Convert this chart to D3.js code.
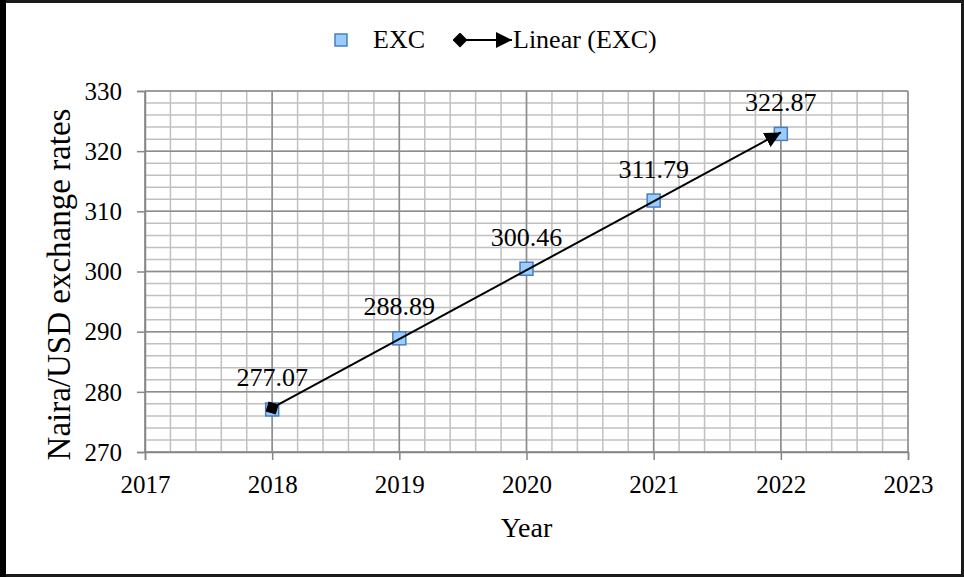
<!DOCTYPE html>
<html>
<head>
<meta charset="utf-8">
<script src="https://cdn.jsdelivr.net/npm/d3@7/dist/d3.min.js"></script>
<style>
  html, body { margin: 0; padding: 0; background: #fff; }
  svg { display: block; }
</style>
</head>
<body>
<svg id="chart" width="964" height="577"></svg>
<script>
// Naira/USD exchange rates by year
const years = [2018, 2019, 2020, 2021, 2022];
const excValues = [277.07, 288.89, 300.46, 311.79, 322.87];
const xTickLabels = [2017, 2018, 2019, 2020, 2021, 2022, 2023];
const yTickLabels = [270, 280, 290, 300, 310, 320, 330];
const seriesName = "EXC";
const trendName = "Linear (EXC)";

const FONT = '"Liberation Serif", "Times New Roman", Times, serif';
const svg = d3.select("#chart").attr("font-family", FONT);
const W = 964, H = 577;

// outer frame
svg.append("rect").attr("x", 1.5).attr("y", 1.5).attr("width", W - 3).attr("height", H - 3)
  .attr("fill", "#fff").attr("stroke", "#1a1a1a").attr("stroke-width", 3);
svg.append("rect").attr("x", 0).attr("y", 0).attr("width", 6).attr("height", H).attr("fill", "#000");

const x = d3.scaleLinear().domain([2017, 2023]).range([145, 908]);
const y = d3.scaleLinear().domain([270, 330]).range([452, 91]);

// grid: minor lines every 0.2 year / 2 units, major lines at labelled ticks
const grid = svg.append("g");
const minorX = d3.range(0, 31).map(i => 2017 + i * 0.2);
const minorY = d3.range(0, 31).map(i => 270 + i * 2);
grid.selectAll(".mx").data(minorX).join("line")
  .attr("x1", d => x(d)).attr("x2", d => x(d)).attr("y1", y(330)).attr("y2", y(270))
  .attr("stroke", "#c0c0c0").attr("stroke-width", 1.5);
grid.selectAll(".my").data(minorY).join("line")
  .attr("x1", x(2017)).attr("x2", x(2023)).attr("y1", d => y(d)).attr("y2", d => y(d))
  .attr("stroke", "#c0c0c0").attr("stroke-width", 1.5);
grid.selectAll(".Mx").data(xTickLabels).join("line")
  .attr("x1", d => x(d)).attr("x2", d => x(d)).attr("y1", y(330)).attr("y2", y(270))
  .attr("stroke", "#8c8c8c").attr("stroke-width", 1.5);
grid.selectAll(".My").data(yTickLabels).join("line")
  .attr("x1", x(2017)).attr("x2", x(2023)).attr("y1", d => y(d)).attr("y2", d => y(d))
  .attr("stroke", "#8c8c8c").attr("stroke-width", 1.5);

// axes
const yAxis = svg.append("g").attr("transform", `translate(${x(2017)},0)`)
  .call(d3.axisLeft(y).tickValues(yTickLabels).tickFormat(d3.format("d")).tickSize(8).tickPadding(15));
const xAxis = svg.append("g").attr("transform", `translate(0,${y(270)})`)
  .call(d3.axisBottom(x).tickValues(xTickLabels).tickFormat(d3.format("d")).tickSize(8).tickPadding(0));
[xAxis, yAxis].forEach(a => {
  a.attr("font-family", FONT).attr("font-size", 25);
  a.select(".domain").attr("stroke", "#868686").attr("stroke-width", 1.5);
  a.selectAll(".tick line").attr("stroke", "#868686").attr("stroke-width", 1.5);
  a.selectAll("text").attr("fill", "#000");
});
xAxis.selectAll("text").attr("y", 41).attr("dy", 0);
yAxis.selectAll("text").attr("dy", "0.33em");

// axis titles
svg.append("text").attr("x", (x(2017) + x(2023)) / 2).attr("y", 537)
  .attr("text-anchor", "middle").attr("font-size", 28).text("Year");
svg.append("text").attr("transform", `translate(70,${(y(270) + y(330)) / 2 + 13}) rotate(-90)`)
  .attr("text-anchor", "middle").attr("font-size", 33).text("Naira/USD exchange rates");

// markers
const defs = svg.append("defs");
defs.append("marker").attr("id", "arrowEnd").attr("viewBox", "0 0 10 10")
  .attr("refX", 10).attr("refY", 5).attr("markerWidth", 8).attr("markerHeight", 8)
  .attr("markerUnits", "strokeWidth").attr("orient", "auto")
  .append("path").attr("d", "M0,0 L10,5 L0,10 Z").attr("fill", "#000");
defs.append("marker").attr("id", "diamondStart").attr("viewBox", "0 0 10 10")
  .attr("refX", 5).attr("refY", 5).attr("markerWidth", 7.5).attr("markerHeight", 7.5)
  .attr("markerUnits", "strokeWidth").attr("orient", "auto")
  .append("path").attr("d", "M5,0 L10,5 L5,10 L0,5 Z").attr("fill", "#000");

// data points
const S = 13;
svg.selectAll(".pt").data(years).join("rect")
  .attr("x", (d) => x(d) - S / 2).attr("y", (d, i) => y(excValues[i]) - S / 2)
  .attr("width", S).attr("height", S)
  .attr("fill", "#99ccff").attr("stroke", "#4a7ebb").attr("stroke-width", 1.5);

// least-squares trend line
const n = years.length;
const mx = d3.mean(years), my = d3.mean(excValues);
const slope = d3.sum(years, (d, i) => (d - mx) * (excValues[i] - my)) / d3.sum(years, d => (d - mx) * (d - mx));
const icpt = my - slope * mx;
const x0 = years[0], x1 = years[n - 1];
svg.append("line")
  .attr("x1", x(x0)).attr("y1", y(icpt + slope * x0))
  .attr("x2", x(x1)).attr("y2", y(icpt + slope * x1))
  .attr("stroke", "#000").attr("stroke-width", 2)
  .attr("marker-start", "url(#diamondStart)").attr("marker-end", "url(#arrowEnd)");

// value labels
svg.selectAll(".lbl").data(years).join("text")
  .attr("x", d => x(d)).attr("y", (d, i) => y(excValues[i]) - 23)
  .attr("text-anchor", "middle").attr("font-size", 26)
  .text((d, i) => excValues[i].toFixed(2));

// legend
const lg = svg.append("g");
lg.append("rect").attr("x", 335).attr("y", 34).attr("width", 12).attr("height", 12)
  .attr("fill", "#99ccff").attr("stroke", "#4a7ebb").attr("stroke-width", 1.5);
lg.append("text").attr("x", 373).attr("y", 48).attr("font-size", 26).text(seriesName);
lg.append("line").attr("x1", 460).attr("y1", 40).attr("x2", 512).attr("y2", 40)
  .attr("stroke", "#000").attr("stroke-width", 2)
  .attr("marker-start", "url(#diamondStart)").attr("marker-end", "url(#arrowEnd)");
lg.append("text").attr("x", 513).attr("y", 48).attr("font-size", 26).text(trendName);
</script>
</body>
</html>
